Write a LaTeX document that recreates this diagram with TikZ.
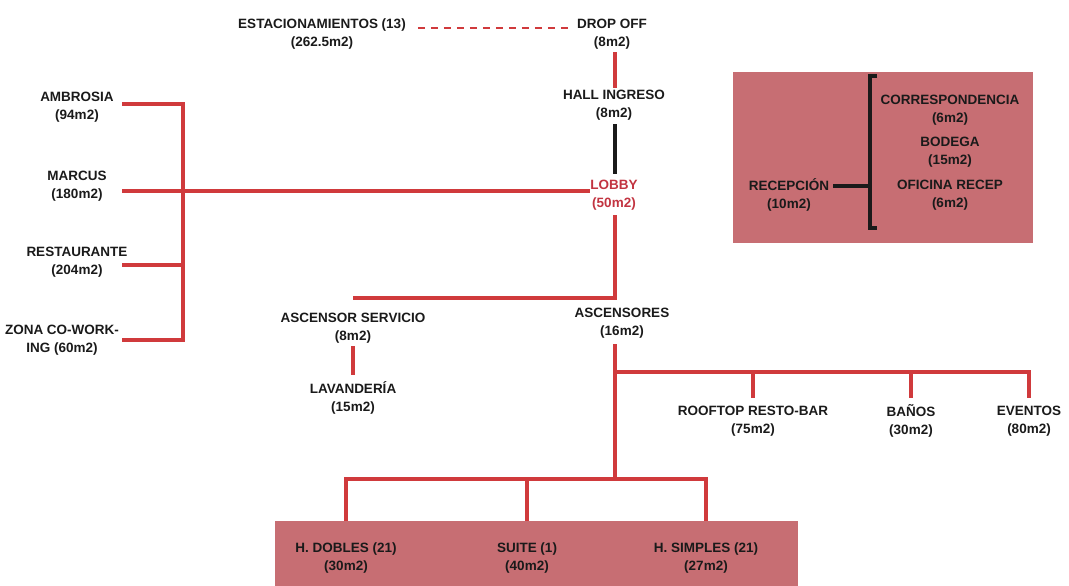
\documentclass[tikz,border=0pt]{standalone}
\usepackage{fontspec}
\setmainfont{Liberation Sans}
\usetikzlibrary{calc}
\definecolor{lred}{HTML}{D03A3C}
\definecolor{lobbyred}{HTML}{C23441}
\definecolor{pinkfill}{HTML}{C76E73}
\definecolor{ink}{HTML}{1A1A1A}
\tikzset{
  lbl/.style={align=center, inner sep=0pt, text=ink, font=\bfseries\fontsize{13.5}{18}\selectfont},
  redline/.style={draw=lred, line width=4pt, line join=miter},
  reddash/.style={draw=lred, line width=2.5pt, dash pattern=on 7pt off 6pt},
  blackline/.style={draw=ink, line width=4pt, line join=miter},
  pinkbox/.style={fill=pinkfill, draw=none, inner sep=0pt, anchor=north west}
}
\begin{document}
\begin{tikzpicture}[x=1pt,y=-1pt]
\useasboundingbox (0,0) rectangle (1069,586);
% backgrounds
\node[pinkbox, minimum width=300pt, minimum height=171pt] (recbox) at (733,72) {};
\node[pinkbox, minimum width=523pt, minimum height=66pt] (rooms) at (275,521) {};
% top
\node[lbl] (est) at (322,34) {ESTACIONAMIENTOS (13)\\(262.5m2)};
\node[lbl] (drop) at (612,34) {DROP OFF\\(8m2)};
\node[lbl] (hall) at (614,105) {HALL INGRESO\\(8m2)};
\node[lbl, text=lobbyred] (lobby) at (614,195) {LOBBY\\(50m2)};
% left
\node[lbl] (amb) at (77,107) {AMBROSIA\\(94m2)};
\node[lbl] (marcus) at (77,186) {MARCUS\\(180m2)};
\node[lbl] (rest) at (77,262) {RESTAURANTE\\(204m2)};
\node[lbl] (zona) at (62,340) {ZONA CO-WORK-\\ING (60m2)};
% middle
\node[lbl] (asv) at (353,328) {ASCENSOR SERVICIO\\(8m2)};
\node[lbl] (lav) at (353,398) {LAVANDERÍA\\(15m2)};
\node[lbl] (asc) at (622,323) {ASCENSORES\\(16m2)};
\node[lbl] (roof) at (753,421) {ROOFTOP RESTO-BAR\\(75m2)};
\node[lbl] (banos) at (911,421) {BAÑOS\\(30m2)};
\node[lbl] (evt) at (1029,421) {EVENTOS\\(80m2)};
% rooms
\node[lbl] (hd) at (346,558) {H. DOBLES (21)\\(30m2)};
\node[lbl] (suite) at (527,558) {SUITE (1)\\(40m2)};
\node[lbl] (hs) at (706,558) {H. SIMPLES (21)\\(27m2)};
% recepcion
\node[lbl] (rec) at (789,195) {RECEPCIÓN\\(10m2)};
\node[lbl] (corr) at (950,110) {CORRESPONDENCIA\\(6m2)};
\node[lbl] (bod) at (950,152) {BODEGA\\(15m2)};
\node[lbl] (ofi) at (950,195) {OFICINA RECEP\\(6m2)};

% coordinates
\coordinate (lx) at (122,0);
\coordinate (jA) at (183,104);
\coordinate (jM) at (183,191);
\coordinate (jR) at (183,265);
\coordinate (jZ) at (183,340);
\coordinate (sx) at (615,0);
\coordinate (hL) at (0,298);
\coordinate (hR) at (0,372);
\coordinate (dR) at (0,398);
\coordinate (hB) at (0,479);
\coordinate (dash) at (0,28);
\coordinate (brT) at (870,76);
\coordinate (brB) at (870,228);
\coordinate (brM) at (870,186);

% connectors
\draw[reddash] (est.east |- dash) ++(12,0) -- ($(drop.west |- dash)+(-3,0)$);
\draw[redline, shorten <=3pt, shorten >=2pt] (drop.south -| sx) -- (hall.north -| sx);
\draw[blackline, shorten <=4pt, shorten >=6pt] (hall.south -| sx) -- (lobby.north -| sx);
\draw[redline] (lx |- jA) -- (jA) -- (jZ) -- (lx |- jZ);
\draw[redline] (lx |- jR) -- (jR);
\draw[redline] (lx |- jM) -- (lobby.west |- jM);
\draw[redline, shorten <=5pt] (lobby.south -| sx) -- (sx |- hL) -- (asv.north |- hL);
\draw[redline, shorten <=3pt, shorten >=6pt] (asv.south) -- (lav.north);
\draw[redline] (asc.south -| sx) ++(0,6) -- (sx |- hB);
\draw[redline] (sx |- hR) -- (evt.north |- hR) -- (evt.north |- dR);
\draw[redline] (roof.north |- hR) -- (roof.north |- dR);
\draw[redline] (banos.north |- hR) -- (banos.north |- dR);
\draw[redline] (hd.north |- rooms.north) -- (hd.north |- hB) -- (hs.north |- hB) -- (hs.north |- rooms.north);
\draw[redline] (suite.north |- hB) -- (suite.north |- rooms.north);
\draw[blackline] ($(brT)+(7,0)$) -- (brT) -- (brB) -- ($(brB)+(7,0)$);
\draw[blackline] (rec.east |- brM) ++(4,0) -- (brM);
\end{tikzpicture}
\end{document}
